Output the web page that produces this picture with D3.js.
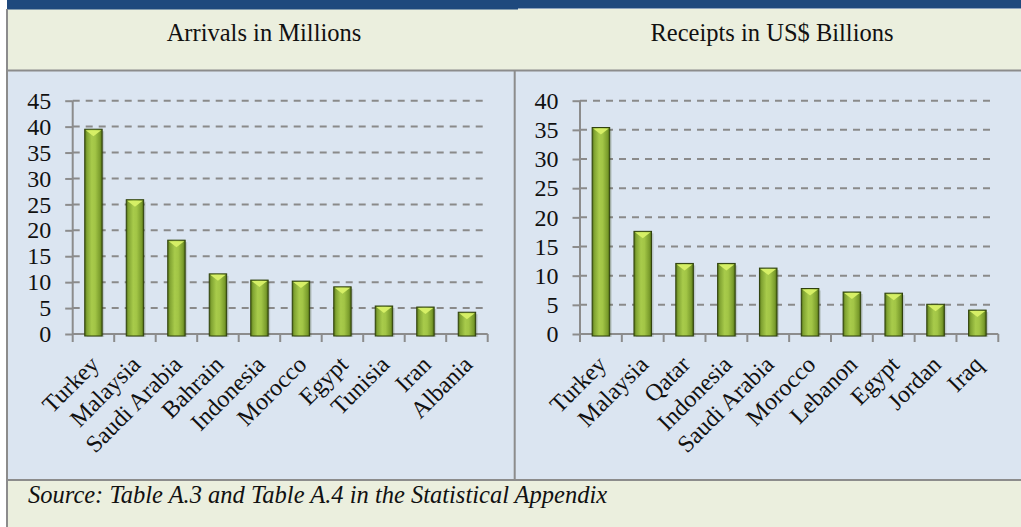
<!DOCTYPE html>
<html><head><meta charset="utf-8">
<script src="https://cdn.jsdelivr.net/npm/d3@7"></script>
<style>body{margin:0;background:#fff}svg{display:block}text{font-family:"Liberation Serif",serif;fill:#111}</style>
</head><body><svg id="c" width="1021" height="527"></svg>
<script>
const arrivalsCats = ["Turkey","Malaysia","Saudi Arabia","Bahrain","Indonesia","Morocco","Egypt","Tunisia","Iran","Albania"];
const arrivalsVals = [39.5,25.9,18.1,11.6,10.4,10.2,9.1,5.4,5.2,4.2];
const arrivalsTicks = [0,5,10,15,20,25,30,35,40,45];
const receiptsCats = ["Turkey","Malaysia","Qatar","Indonesia","Saudi Arabia","Morocco","Lebanon","Egypt","Jordan","Iraq"];
const receiptsVals = [35.4,17.6,12.1,12.1,11.3,7.8,7.2,7.0,5.1,4.1];
const receiptsTicks = [0,5,10,15,20,25,30,35,40];
const titles = ["Arrivals in Millions","Receipts in US$ Billions"];
const sourceText = "Source: Table A.3 and Table A.4 in the Statistical Appendix";

const svg = d3.select("#c");
const defs = svg.append("defs");
const g = defs.append("linearGradient").attr("id","barg").attr("x1","0").attr("x2","1").attr("y1","0").attr("y2","0");
[[0,"#4f6c14"],[0.12,"#80a332"],[0.4,"#a8cb4b"],[0.6,"#a2c546"],[0.88,"#7a9c2c"],[1,"#4a6610"]].forEach(s=>g.append("stop").attr("offset",s[0]).attr("stop-color",s[1]));

// backgrounds
svg.append("rect").attr("x",0).attr("y",0).attr("width",1021).attr("height",527).attr("fill","#fff");
svg.append("rect").attr("x",7).attr("y",9).attr("width",1014).attr("height",62).attr("fill","#EBEFDE");
svg.append("rect").attr("x",7).attr("y",71).attr("width",1014).attr("height",409).attr("fill","#DBE5F1");
svg.append("rect").attr("x",7).attr("y",480).attr("width",1014).attr("height",47).attr("fill","#EBEFDE");
svg.append("rect").attr("x",7).attr("y",0).attr("width",511).attr("height",9.5).attr("fill","#1F497D");
svg.append("rect").attr("x",517).attr("y",0).attr("width",504).attr("height",8.5).attr("fill","#1F497D");
// borders
const bc="#8C8C8C";
svg.append("line").attr("x1",7).attr("x2",7).attr("y1",9).attr("y2",527).attr("stroke",bc).attr("stroke-width",2);
svg.append("line").attr("x1",7).attr("x2",1021).attr("y1",70.5).attr("y2",70.5).attr("stroke",bc).attr("stroke-width",2);
svg.append("line").attr("x1",7).attr("x2",1021).attr("y1",480).attr("y2",480).attr("stroke",bc).attr("stroke-width",2);
svg.append("line").attr("x1",514.7).attr("x2",514.7).attr("y1",70).attr("y2",480).attr("stroke",bc).attr("stroke-width",2);

// titles
svg.append("text").attr("x",264).attr("y",41).attr("text-anchor","middle").style("font-size","24.5px").text(titles[0]);
svg.append("text").attr("x",772).attr("y",41).attr("text-anchor","middle").style("font-size","24.5px").text(titles[1]);
svg.append("text").attr("x",28).attr("y",503).style("font-size","24.5px").style("font-style","italic").text(sourceText);

function chart(cats, vals, ticks, x0, x1, yTop){
  const y = d3.scaleLinear().domain([0, ticks[ticks.length-1]]).range([334, yTop]);
  const x = d3.scaleBand().domain(cats).range([x0, x1]).paddingInner(0.58).paddingOuter(0.29);
  const xb = d3.scaleBand().domain(cats).range([x0, x1]);
  const root = svg.append("g");
  // gridlines
  root.append("g").selectAll("line").data(ticks.filter(t=>t>0)).join("line")
    .attr("x1",x0).attr("x2",x1-3).attr("y1",d=>y(d)).attr("y2",d=>y(d))
    .attr("stroke","#8a8a8a").attr("stroke-width",2).attr("stroke-dasharray","7,6");
  // y axis
  const ya = root.append("g").attr("transform",`translate(${x0},0)`)
    .call(d3.axisLeft(y).tickValues(ticks).tickSize(7.5).tickPadding(14).tickFormat(d3.format("d")));
  ya.select(".domain").attr("stroke",bc).attr("stroke-width",2).attr("d",`M0,334V${yTop}`);
  ya.selectAll(".tick line").attr("stroke",bc).attr("stroke-width",2);
  ya.selectAll(".tick text").style("font-size","24px").style("font-family","Liberation Serif").attr("fill","#111");
  // x axis
  const xa = root.append("g").attr("transform","translate(0,334)")
    .call(d3.axisBottom(xb).tickSize(0).tickFormat(""));
  xa.select(".domain").attr("stroke",bc).attr("stroke-width",2).attr("d",`M${x0},0H${x1}`);
  xa.selectAll(".tick").remove();
  const edges = cats.map(c=>xb(c)).concat([x1]);
  xa.selectAll("line.tk").data(edges).join("line").attr("class","tk")
    .attr("x1",d=>d).attr("x2",d=>d).attr("y1",0).attr("y2",8).attr("stroke",bc).attr("stroke-width",2);
  // bars
  const bars = root.append("g").selectAll("g").data(cats.map((c,i)=>({c,v:vals[i]}))).join("g");
  bars.append("rect").attr("x",d=>x(d.c)+2).attr("y",d=>y(d.v)+2).attr("width",x.bandwidth()).attr("height",d=>335-y(d.v))
    .attr("fill","rgba(60,70,40,0.18)");
  bars.append("rect").attr("x",d=>x(d.c)).attr("y",d=>y(d.v)).attr("width",x.bandwidth()).attr("height",d=>336-y(d.v))
    .attr("fill","url(#barg)").attr("stroke","#2f400c").attr("stroke-width",1);
  bars.append("path").attr("d",d=>{const a=x(d.c)+1,b=x(d.c)+x.bandwidth()-1,t=y(d.v)+1;return `M${a},${t}L${b},${t}L${(a+b)/2},${t+6}Z`;})
    .attr("fill","#d6ef66");
  // category labels
  root.append("g").selectAll("text").data(cats).join("text")
    .attr("transform",d=>`translate(${xb(d)+xb.bandwidth()/2+1},${360}) rotate(-45)`)
    .attr("text-anchor","end").attr("dy","0.35em").style("font-size","24px").text(d=>d);
}
chart(arrivalsCats, arrivalsVals, arrivalsTicks, 72.7, 487.7, 100.7);
chart(receiptsCats, receiptsVals, receiptsTicks, 580, 998.3, 100.7);
</script></body></html>
